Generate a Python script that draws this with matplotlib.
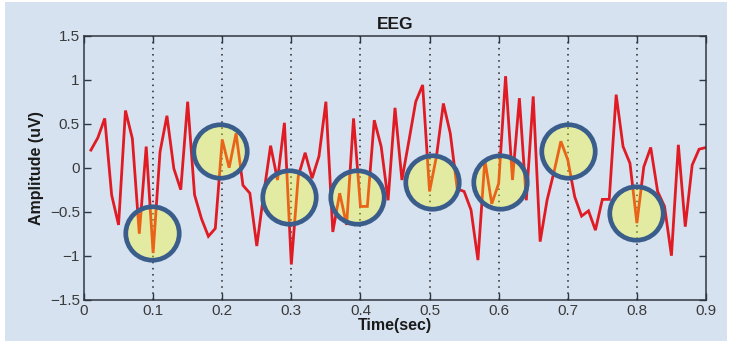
import matplotlib
matplotlib.use("Agg")
import matplotlib.pyplot as plt
from matplotlib.patches import Rectangle
from matplotlib.ticker import FuncFormatter

time_sec = [0.01, 0.02, 0.03, 0.04, 0.05, 0.06, 0.07, 0.08, 0.09, 0.10,
            0.11, 0.12, 0.13, 0.14, 0.15, 0.16, 0.17, 0.18, 0.19, 0.20,
            0.21, 0.22, 0.23, 0.24, 0.25, 0.26, 0.27, 0.28, 0.29, 0.30,
            0.31, 0.32, 0.33, 0.34, 0.35, 0.36, 0.37, 0.38, 0.39, 0.40,
            0.41, 0.42, 0.43, 0.44, 0.45, 0.46, 0.47, 0.48, 0.49, 0.50,
            0.51, 0.52, 0.53, 0.54, 0.55, 0.56, 0.57, 0.58, 0.59, 0.60,
            0.61, 0.62, 0.63, 0.64, 0.65, 0.66, 0.67, 0.68, 0.69, 0.70,
            0.71, 0.72, 0.73, 0.74, 0.75, 0.76, 0.77, 0.78, 0.79, 0.80,
            0.81, 0.82, 0.83, 0.84, 0.85, 0.86, 0.87, 0.88, 0.89, 0.90]

amplitude = [0.20, 0.34, 0.56, -0.31, -0.65, 0.65, 0.33, -0.75, 0.24, -0.97,
             0.18, 0.59, -0.01, -0.25, 0.75, -0.31, -0.58, -0.78, -0.69, 0.32,
             0.00, 0.39, -0.20, -0.29, -0.89, -0.30, 0.25, -0.14, 0.51, -1.10,
             -0.10, 0.17, -0.12, 0.13, 0.75, -0.73, -0.29, -0.65, 0.56, -0.44,
             -0.44, 0.54, 0.24, -0.37, 0.68, -0.14, 0.30, 0.75, 0.94, -0.27,
             0.13, 0.73, 0.39, -0.24, -0.27, -0.48, -1.05, 0.09, -0.41, -0.18,
             1.04, -0.14, 0.79, -0.37, 0.81, -0.84, -0.37, -0.05, 0.30, 0.09,
             -0.33, -0.55, -0.49, -0.71, -0.36, -0.36, 0.83, 0.24, 0.05, -0.63,
             0.01, 0.23, -0.27, -0.44, -1.00, 0.26, -0.67, 0.03, 0.21, 0.23]

marker_times = [0.1, 0.2, 0.3, 0.4, 0.5, 0.6, 0.7, 0.8]
circle_t = [0.099, 0.197, 0.297, 0.395, 0.504, 0.602, 0.700, 0.799]
circle_v = [-0.74, 0.19, -0.33, -0.33, -0.16, -0.16, 0.19, -0.51]

x_ticks = [0, 0.1, 0.2, 0.3, 0.4, 0.5, 0.6, 0.7, 0.8, 0.9]
y_ticks = [-1.5, -1, -0.5, 0, 0.5, 1, 1.5]

plt.rcParams['font.family'] = ['Liberation Sans', 'DejaVu Sans']
plt.rcParams['axes.unicode_minus'] = True

BG = '#d6e2f0'
fig = plt.figure(figsize=(7.37, 3.44), dpi=100, facecolor='white')
fig.patches.append(Rectangle((5 / 737, 3 / 344), 722 / 737, 339 / 344,
                             transform=fig.transFigure, facecolor=BG,
                             edgecolor='none', zorder=-10))

ax = fig.add_axes([84 / 737, 1 - 299.7 / 344, 622 / 737, 264 / 344])
ax.set_facecolor(BG)

for mt in marker_times:
    ax.axvline(mt, color='#222222', linestyle=(0, (1, 3)), linewidth=1.1, zorder=1)

ax.plot(time_sec, amplitude, color='#e01b24', linewidth=2.0, zorder=2,
        solid_joinstyle='miter')

ax.scatter(circle_t, circle_v, s=1480, facecolors=[(1.0, 1.0, 0.0, 0.32)],
           edgecolors='#3a5d8c', linewidths=3.4, zorder=3)

ax.set_xlim(0, 0.9)
ax.set_ylim(-1.5, 1.5)
ax.set_xticks(x_ticks)
ax.set_yticks(y_ticks)
fmt = FuncFormatter(lambda v, p: ('%g' % v).replace('-', '\u2212'))
ax.xaxis.set_major_formatter(fmt)
ax.yaxis.set_major_formatter(fmt)
ax.tick_params(direction='in', top=True, right=True, length=5, width=1,
               color='#2f3640', labelsize=11, labelcolor='#3a3a3a', pad=3)
for s in ax.spines.values():
    s.set_color('#2f3640')
    s.set_linewidth(1.1)

ax.set_title('EEG', fontsize=12.5, fontweight='bold', color='#1a1a1a', pad=5)
ax.set_xlabel('Time(sec)', fontsize=11.5, fontweight='bold', color='#1a1a1a', labelpad=0)
ax.set_ylabel('Amplitude (uV)', fontsize=11.5, fontweight='bold', color='#1a1a1a', labelpad=4)

fig.savefig('out.png', dpi=100, facecolor='white')
